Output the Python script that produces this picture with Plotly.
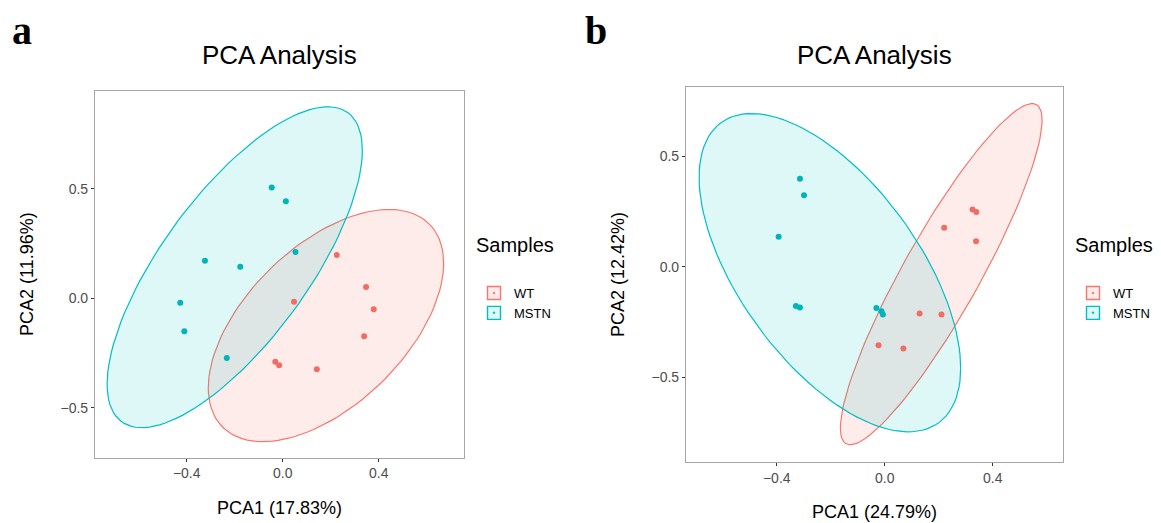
import numpy as np
import plotly.graph_objects as go

# ---------------- data ----------------
groups = ["WT", "MSTN"]
group_colors = ["#F8766D", "#00BFC4"]
point_colors = ["#EF6D64", "#00B5B9"]
group_fills = ["rgba(248,118,109,0.14)", "rgba(0,191,196,0.13)"]

# panel a
a_wt_pc1 = [0.225, 0.347, 0.379, 0.047, 0.339, -0.031, -0.015, 0.142]
a_wt_pc2 = [0.198, 0.052, -0.050, -0.016, -0.174, -0.290, -0.306, -0.325]
a_mstn_pc1 = [-0.046, 0.013, -0.324, -0.177, 0.053, -0.427, -0.410, -0.233]
a_mstn_pc2 = [0.506, 0.444, 0.172, 0.144, 0.212, -0.020, -0.151, -0.273]

# panel b
b_wt_pc1 = [0.325, 0.339, 0.220, 0.338, 0.129, 0.210, -0.023, 0.069]
b_wt_pc2 = [0.260, 0.248, 0.177, 0.116, -0.211, -0.216, -0.355, -0.370]
b_mstn_pc1 = [-0.314, -0.299, -0.393, -0.329, -0.314, -0.031, -0.012, -0.007]
b_mstn_pc2 = [0.399, 0.324, 0.136, -0.177, -0.184, -0.186, -0.201, -0.216]

panel_letters = ["a", "b"]
panel_titles = ["PCA Analysis", "PCA Analysis"]
x_titles = ["PCA1 (17.83%)", "PCA1 (24.79%)"]
y_titles = ["PCA2 (11.96%)", "PCA2 (12.42%)"]
legend_title = "Samples"
x_tickvals = [-0.4, 0.0, 0.4]
y_tickvals = [-0.5, 0.0, 0.5]


# ------------- stat_ellipse (type = "t", level = 0.95) -------------
def t_ellipse(x, y, level=0.95, segments=120, nu=5, maxit=25, tol=0.01):
    pts = np.column_stack([x, y]).astype(float)
    n, p = pts.shape
    wt = np.ones(n)
    loc = pts.mean(axis=0)
    w = np.sqrt(wt)
    X = pts - loc
    for _ in range(maxit):
        w0 = w
        X = pts - loc
        _, d, vt = np.linalg.svd(np.sqrt(w / w.sum())[:, None] * X, full_matrices=False)
        wX = X @ vt.T @ np.diag(1.0 / d)
        Q = (wX ** 2).sum(axis=1)
        w = wt * (nu + p) / (nu + Q)
        loc = (w[:, None] * pts).sum(axis=0) / w.sum()
        if np.all(np.abs(w - w0) < tol):
            break
    sw = np.sqrt(w)[:, None] * X
    cov = sw.T @ sw / wt.sum()
    dfd = n - 1
    qf = dfd / 2.0 * ((1 - level) ** (-2.0 / dfd) - 1)  # F(2, dfd) quantile
    radius = np.sqrt(2 * qf)
    ang = np.linspace(0, 2 * np.pi, segments + 1)
    circ = np.column_stack([np.cos(ang), np.sin(ang)])
    R = np.linalg.cholesky(cov).T
    e = loc + radius * circ @ R
    return e[:, 0], e[:, 1]


panels = [
    [(a_wt_pc1, a_wt_pc2), (a_mstn_pc1, a_mstn_pc2)],
    [(b_wt_pc1, b_wt_pc2), (b_mstn_pc1, b_mstn_pc2)],
]

W, H = 1161, 523
FONT = "Liberation Sans, Arial, sans-serif"

fig = go.Figure()
for i, panel in enumerate(panels):
    xa = "x" if i == 0 else "x2"
    ya = "y" if i == 0 else "y2"
    leg = "legend" if i == 0 else "legend2"
    # ellipses
    for g, (px, py) in enumerate(panel):
        ex, ey = t_ellipse(px, py)
        fig.add_trace(go.Scatter(
            x=ex, y=ey, mode="lines", fill="toself",
            fillcolor=group_fills[g], line=dict(color=group_colors[g], width=1.2),
            xaxis=xa, yaxis=ya, showlegend=False, hoverinfo="skip"))
    # points
    for g, (px, py) in enumerate(panel):
        fig.add_trace(go.Scatter(
            x=px, y=py, mode="markers", name=groups[g],
            marker=dict(color=point_colors[g], size=6),
            xaxis=xa, yaxis=ya, showlegend=False))
    # legend keys
    for g in range(len(groups)):
        fig.add_trace(go.Scatter(
            x=[None], y=[None], mode="markers", name=groups[g],
            marker=dict(symbol="square-dot", size=13, color=group_fills[g],
                        line=dict(color=group_colors[g], width=1.4)),
            xaxis=xa, yaxis=ya, legend=leg, showlegend=True))

axis_common = dict(
    showgrid=False, zeroline=False, showline=True, mirror=True,
    linecolor="#A6A6A6", linewidth=1.2, ticks="outside", ticklen=3,
    tickcolor="#333333", tickwidth=1, tickformat=".1f",
    tickfont=dict(family=FONT, size=14, color="#4D4D4D"),
)

# plot areas in pixels (left, right, top, bottom)
areas = [(95, 464, 90.7, 457.5), (686, 1063, 86.7, 462.3)]
xranges = [[-0.782, 0.755], [-0.736, 0.660]]
yranges = [[-0.728, 0.949], [-0.885, 0.816]]

layout = dict(
    width=W, height=H, margin=dict(l=0, r=0, t=0, b=0),
    paper_bgcolor="white", plot_bgcolor="white",
    font=dict(family=FONT, color="black"),
)
annotations = []
for i, (l, r, t, b) in enumerate(areas):
    sfx = "" if i == 0 else "2"
    layout["xaxis" + sfx] = dict(
        axis_common, domain=[l / W, r / W], range=xranges[i],
        tickvals=x_tickvals, anchor="y" + sfx,
        title=dict(text=x_titles[i], font=dict(family=FONT, size=18, color="black"), standoff=20))
    layout["yaxis" + sfx] = dict(
        axis_common, domain=[1 - b / H, 1 - t / H], range=yranges[i],
        tickvals=y_tickvals, anchor="x" + sfx,
        title=dict(text=y_titles[i], font=dict(family=FONT, size=18, color="black"), standoff=22))
    annotations.append(dict(
        text=panel_titles[i], x=(l + r) / 2 / W, y=1 - 55 / H, xref="paper", yref="paper",
        xanchor="center", yanchor="middle", showarrow=False,
        font=dict(family=FONT, size=26, color="black")))
    lx = [10, 583][i]
    annotations.append(dict(
        text="<b>%s</b>" % panel_letters[i], x=lx / W, y=1 - 30 / H, xref="paper", yref="paper",
        xanchor="left", yanchor="middle", showarrow=False,
        font=dict(family="Liberation Serif, Times New Roman, serif", size=40, color="black")))
    layout["legend" + ("" if i == 0 else "2")] = dict(
        x=(r + 10) / W, xanchor="left", y=1 - 226 / H, yanchor="top",
        title=dict(text=legend_title + "<br><span style='font-size:1px'> </span>",
                   font=dict(family=FONT, size=20, color="black")),
        font=dict(family=FONT, size=13, color="black"),
        bgcolor="rgba(0,0,0,0)", tracegroupgap=0, itemwidth=30,
    )
layout["annotations"] = annotations
fig.update_layout(**layout)

fig.write_html("out.html")
